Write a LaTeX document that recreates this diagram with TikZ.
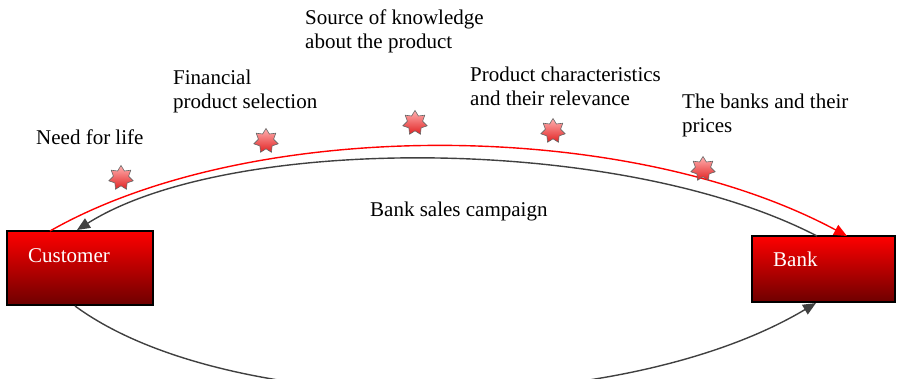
\documentclass[tikz,border=0pt]{standalone}
\usepackage{fontspec}
\setmainfont{Liberation Serif}
\usetikzlibrary{shapes.geometric,arrows.meta}
\definecolor{darkline}{RGB}{64,64,64}
\definecolor{boxtop}{RGB}{255,0,0}
\definecolor{boxmid}{RGB}{230,0,0}
\definecolor{boxbot}{RGB}{110,0,0}
\definecolor{startop}{RGB}{255,175,175}
\definecolor{starbot}{RGB}{225,35,35}
\tikzset{
  label text/.style={font=\fontsize{21}{24.5}\selectfont, inner sep=0pt, anchor=base west, align=left},
  partybox/.style={draw=black, line width=1.6pt, top color=boxtop, middle color=boxmid, bottom color=boxbot},
  box text/.style={font=\fontsize{21}{24}\selectfont, text=white, inner sep=0pt, anchor=base west},
  redflow/.style={draw=red, line width=1.4pt, -{Triangle[length=13pt,width=11pt]}},
  darkflow/.style={draw=darkline, line width=1.4pt, -{Triangle[length=13pt,width=11pt]}},
  burst/.style={star, star points=7, star point ratio=1.6, minimum size=25pt, inner sep=0pt,
    draw=gray!80!black, line width=0.6pt, top color=startop, bottom color=starbot},
}
\begin{document}
\begin{tikzpicture}[x=1pt, y=-1pt]
\useasboundingbox (0,0) rectangle (897,378);

% the two parties
\node[partybox, minimum width=146pt, minimum height=74pt, inner sep=0pt] (cust) at (80,268) {};
\node[partybox, minimum width=143pt, minimum height=66pt, inner sep=0pt] (bank) at (823.5,269) {};
\node[box text] (custtxt) at (28,262) {Customer};
\node[box text] (banktxt) at (773,266) {Bank};

% anchor points on the box edges
\coordinate (cRedOut) at (50,231);
\coordinate (cDarkIn) at (77,230);
\coordinate (cDarkOut) at (75,306);
\coordinate (bRedIn) at (847,236);
\coordinate (bDarkOut) at (817,236);
\coordinate (bDarkIn) at (816,303);

% flows between customer and bank
\draw[redflow] (cRedOut) .. controls (250,117) and (625,117) .. (bRedIn);
\draw[darkflow] (bDarkOut) .. controls (620,134) and (229,134) .. (cDarkIn);
\draw[darkflow] (cDarkOut) .. controls (230,420) and (620,420) .. (bDarkIn);

% stages along the journey
\node[burst] (s1) at (121,178) {};
\node[burst] (s2) at (266,141) {};
\node[burst] (s3) at (415,123) {};
\node[burst] (s4) at (553,131) {};
\node[burst] (s5) at (703,169) {};

% multi-line labels are placed by the baseline of their last line
\node[label text] (t1) at (36,144) {Need for life};
\node[label text] (t2) at (173,108.5) {Financial\\product selection};
\node[label text] (t3) at (305,48.5) {Source of knowledge\\about the product};
\node[label text] (t4) at (470,105.5) {Product characteristics\\and their relevance};
\node[label text] (t5) at (682,132.5) {The banks and their\\prices};
\node[label text] (t6) at (370,216) {Bank sales campaign};
\end{tikzpicture}
\end{document}
